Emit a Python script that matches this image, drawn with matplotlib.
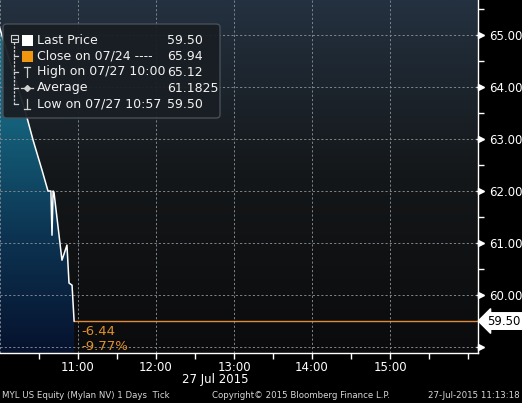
import numpy as np
import pandas as pd
import matplotlib
matplotlib.use("Agg")
import matplotlib.pyplot as plt
import matplotlib.dates as mdates
import matplotlib.transforms as mtrans
from matplotlib.patches import FancyBboxPatch, Polygon, Rectangle
from matplotlib.colors import LinearSegmentedColormap

# tick data
times = ["10:00:00", "10:07:40", "10:19:10", "10:25:25", "10:32:20", "10:36:55",
         "10:39:10", "10:40:00", "10:40:50", "10:41:30", "10:47:40", "10:51:30",
         "10:53:05", "10:55:25", "10:57:00"]
prices = [65.12, 64.48, 63.56, 62.98, 62.40, 62.00, 62.00, 61.15, 62.00, 61.98,
          60.67, 60.96, 60.23, 60.19, 59.50]
last_price = 59.50
y_ticks = [59.0, 60.0, 61.0, 62.0, 63.0, 64.0, 65.0]
y_labels = ["", "60.00", "61.00", "62.00", "63.00", "64.00", "65.00"]
x_hours = ["11:00", "12:00", "13:00", "14:00", "15:00"]
legend_names = ["Last Price", "Close on 07/24 ----", "High on 07/27 10:00", "Average", "Low on 07/27 10:57"]
legend_values = ["59.50", "65.94", "65.12", "61.1825", "59.50"]
chg_abs = "-6.44"
chg_pct = "-9.77%"

day = "2015-07-27 "
t = pd.to_datetime([day + s for s in times])
tn = mdates.date2num(t)
x0 = mdates.date2num(pd.Timestamp(day + "10:00:00"))
x1 = mdates.date2num(pd.Timestamp(day + "16:07:40"))
y0, y1 = 58.885, 65.673

W, H = 522, 403
fig = plt.figure(figsize=(W / 100, H / 100), dpi=100, facecolor="black")
ax = fig.add_axes([0, 1 - 353 / H, 478 / W, 353 / H])
ax.set_xlim(x0, x1)
ax.set_ylim(y0, y1)

# background gradient
bg = LinearSegmentedColormap.from_list("bg", ["#0b0b0d", "#141719", "#243140"])
grad = np.linspace(0, 1, 256).reshape(-1, 1)
ax.imshow(grad, cmap=bg, extent=[0, 1, 0, 1], transform=ax.transAxes,
          aspect="auto", origin="lower", zorder=0)

# area fill gradient clipped under the line
fillc = LinearSegmentedColormap.from_list("fl", ["#06122e", "#0c3452", "#15627c", "#1a7088"])
im = ax.imshow(grad, cmap=fillc, extent=[x0, x1, y0, y1], aspect="auto",
               origin="lower", zorder=1)
verts = [(tn[0], y0)] + list(zip(tn, prices)) + [(tn[-1], y0)]
poly = Polygon(verts, closed=True, facecolor="none", edgecolor="none")
ax.add_patch(poly)
im.set_clip_path(poly)
ax.set_xlim(x0, x1)
ax.set_ylim(y0, y1)

# grid
gkw = dict(color="#7d858d", lw=0.7, ls=(0, (2.2, 2.2)), zorder=2)
for yv in y_ticks:
    ax.axhline(yv, **gkw)
for h in range(10, 16):
    ax.axvline(mdates.date2num(pd.Timestamp(day + "%d:00:00" % h)), **gkw)

# price line and last-price line
ax.plot(tn, prices, color="white", lw=1.1, zorder=4)
ax.plot([tn[-1], x1], [last_price, last_price], color="#e08a3a", lw=1.0, zorder=3)
ax.text(tn[-1] + 0.0038, last_price - 0.07, chg_abs, color="#e0902a", fontsize=9.5,
        va="top", ha="left", zorder=5)
ax.text(tn[-1] + 0.0038, last_price - 0.37, chg_pct, color="#e0902a", fontsize=9.5,
        va="top", ha="left", zorder=5, clip_on=False)

# axes styling
for s in ["left", "top"]:
    ax.spines[s].set_visible(False)
ax.spines["right"].set_color("white")
ax.spines["bottom"].set_color("white")
ax.spines["right"].set_linewidth(1.0)
ax.spines["bottom"].set_linewidth(1.0)

ax.yaxis.tick_right()
ax.set_yticks(y_ticks)
ax.set_yticklabels(y_labels)
ax.set_yticks(np.arange(59.5, 65.6, 1.0), minor=True)
ax.tick_params(axis="y", which="major", length=0, pad=8, labelcolor="white", labelsize=8.5)
ax.tick_params(axis="y", which="minor", length=4, width=1, color="white", direction="out")

# arrow ticks on right axis
bt = mtrans.blended_transform_factory(ax.transAxes, ax.transData)
ax.plot([1 + 3 / 478] * len(y_ticks), y_ticks, ls="none", marker=">", ms=4.5,
        color="white", transform=bt, clip_on=False, zorder=6)
ax.plot([1 + 1 / 478] * len(y_ticks), y_ticks, ls="none", marker="_", ms=4,
        mew=1, color="white", transform=bt, clip_on=False, zorder=6)

# last price label
ax.text(1 + 9 / 478, last_price, "59.50", transform=bt, fontsize=8.5, color="black",
        va="center", ha="left", clip_on=False, zorder=7,
        bbox=dict(boxstyle="larrow,pad=0.15", fc="white", ec="white"))

hour_nums = [mdates.date2num(pd.Timestamp(day + s + ":00")) for s in x_hours]
ax.set_xticks(hour_nums)
ax.set_xticklabels(x_hours)
half = [mdates.date2num(pd.Timestamp(day + "%d:30:00" % h)) for h in range(10, 16)]
ax.set_xticks(half + [mdates.date2num(pd.Timestamp(day + "16:00:00"))], minor=True)
ax.tick_params(axis="x", which="both", length=4, width=1, color="white",
               direction="out", pad=2, labelcolor="white", labelsize=8.5)

fig.text(215 / W, 1 - 380 / H, "27 Jul 2015", color="white", fontsize=8.5,
         ha="center", va="center")

# footer
fkw = dict(color="#d8d8d8", fontsize=6.2, va="center")
fig.text(2 / W, 1 - 395 / H, "MYL US Equity (Mylan NV) 1 Days  Tick", ha="left", **fkw)
fig.text(212 / W, 1 - 395 / H, "Copyright\u00a9 2015 Bloomberg Finance L.P.", ha="left", **fkw)
fig.text(520 / W, 1 - 395 / H, "27-Jul-2015 11:13:18", ha="right", **fkw)


# legend box, in pixel coords from the top-left corner
def px(x, y):
    return (x / W, 1 - y / H)


ft = fig.transFigure
lx, ly = px(3, 118)
box = FancyBboxPatch((lx, ly), 217 / W, 94 / H, boxstyle="round,pad=0,rounding_size=0.008",
                     transform=ft, fc="#191e24", ec="#4a5158", lw=1, alpha=0.95, zorder=10)
fig.patches.append(box)

rows = [40, 56, 72, 88, 104]
for r, (name, val) in enumerate(zip(legend_names, legend_values)):
    fig.text(*px(37, rows[r]), name, color="#f2f2f2", fontsize=9, va="center", ha="left", zorder=12)
    fig.text(*px(167, rows[r]), val, color="#f2f2f2", fontsize=9, va="center", ha="left", zorder=12)

lkw = dict(transform=ft, color="#d0d0d0", lw=0.9, zorder=11)
# tree
fig.lines.append(plt.Line2D([14 / W, 14 / W], [1 - 42 / H, 1 - 104 / H], ls=(0, (2, 1)), **lkw))
for yy in rows[1:]:
    fig.lines.append(plt.Line2D([14 / W, 18 / W], [1 - yy / H, 1 - yy / H], **lkw))
fig.patches.append(Rectangle(px(11, 42), 7 / W, 7 / H, transform=ft, fc="none",
                             ec="#d0d0d0", lw=0.8, zorder=11))
fig.lines.append(plt.Line2D([12.5 / W, 16.5 / W], [1 - 38.5 / H, 1 - 38.5 / H], **lkw))
# squares
fig.patches.append(Rectangle(px(22, 46), 11 / W, 11 / H, transform=ft, fc="white", ec="none", zorder=11))
fig.patches.append(Rectangle(px(22, 62), 11 / W, 11 / H, transform=ft, fc="#f0960f", ec="none", zorder=11))
# high T
fig.lines.append(plt.Line2D([27 / W, 27 / W], [1 - 67 / H, 1 - 77 / H], **lkw))
fig.lines.append(plt.Line2D([24 / W, 30 / W], [1 - 67 / H, 1 - 67 / H], **lkw))
# average
fig.lines.append(plt.Line2D([21 / W, 33 / W], [1 - 88 / H, 1 - 88 / H], **lkw))
fig.lines.append(plt.Line2D([27 / W], [1 - 88 / H], marker="D", ms=3, ls="none", **lkw))
# low
fig.lines.append(plt.Line2D([27 / W, 27 / W], [1 - 99 / H, 1 - 109 / H], **lkw))
fig.lines.append(plt.Line2D([24 / W, 30 / W], [1 - 109 / H, 1 - 109 / H], **lkw))

fig.savefig("out.png", dpi=100, facecolor="black")
